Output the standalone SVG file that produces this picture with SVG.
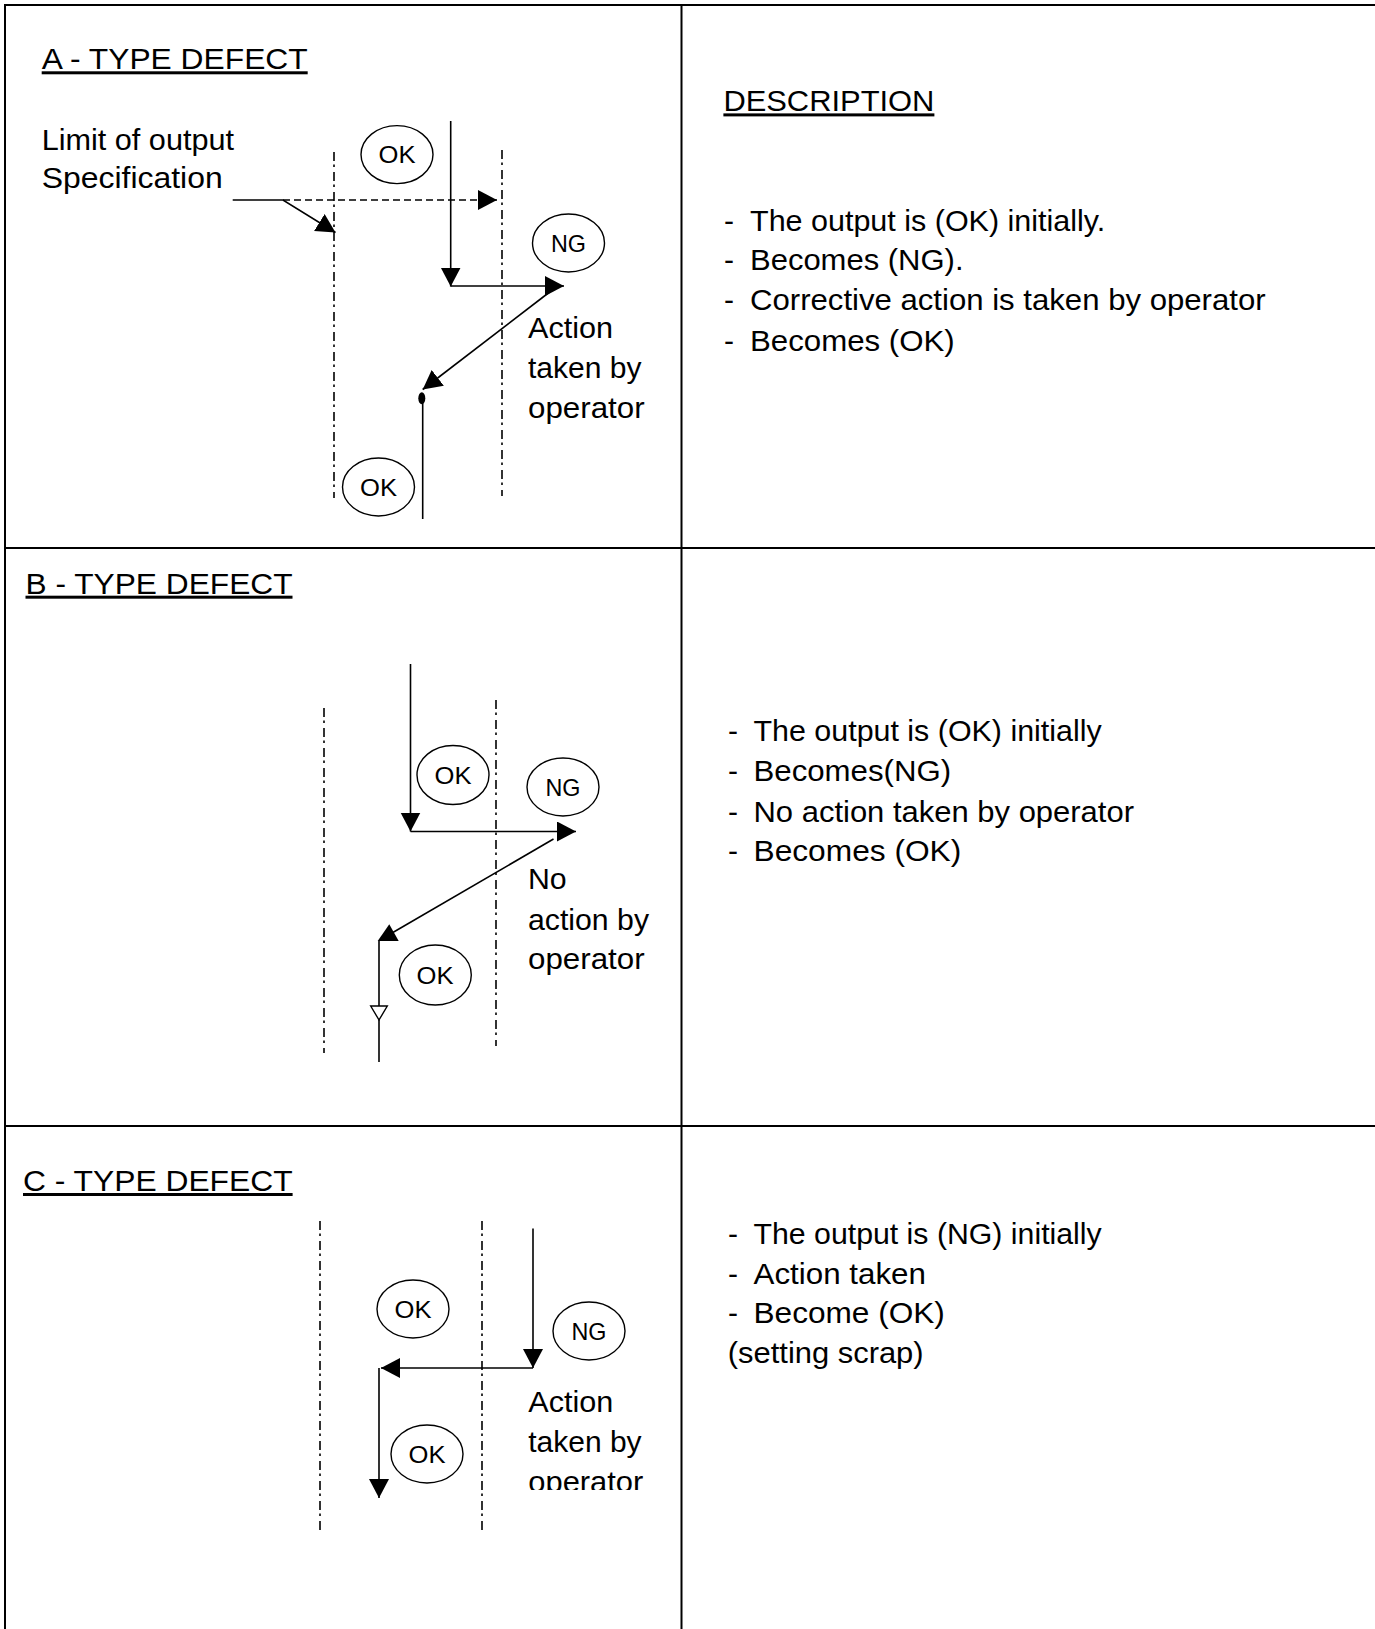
<svg xmlns="http://www.w3.org/2000/svg" width="1375" height="1629" viewBox="0 0 1375 1629">
<style>
text { font-family: "Liberation Sans", Arial, sans-serif; fill: #000; }
.t { font-size: 30px; }
.h { font-size: 30px; text-decoration: underline; }
.lbl { font-size: 24px; }
.frame { stroke: #000; stroke-width: 2; fill: none; }
.ln { stroke: #000; stroke-width: 1.6; fill: none; }
.dash { stroke: #000; stroke-width: 1.6; fill: none; stroke-dasharray: 7 4; }
.lim { stroke: #000; stroke-width: 1.6; fill: none; stroke-dasharray: 9 3.5 2.5 5; }
.node ellipse { fill: #fff; stroke: #000; stroke-width: 1.4; }
</style>
<defs>
<marker id="ah" markerUnits="userSpaceOnUse" markerWidth="22" markerHeight="22" refX="19" refY="10" orient="auto">
<path d="M0,0 L19,10 L0,20 z" fill="#000"/>
</marker>
<clipPath id="clipC"><rect x="0" y="0" width="1375" height="1490"/></clipPath>
</defs>
<rect x="0" y="0" width="1375" height="1629" fill="#fff"/>

<g id="frame">
<line class="frame" x1="4" y1="5" x2="1375" y2="5"/>
<line class="frame" x1="5" y1="4" x2="5" y2="1629"/>
<line class="frame" x1="681.5" y1="4" x2="681.5" y2="1629"/>
<line class="frame" x1="4" y1="548" x2="1375" y2="548"/>
<line class="frame" x1="4" y1="1126" x2="1375" y2="1126"/>
</g>

<g id="limits">
<line class="lim" x1="334" y1="152" x2="334" y2="498"/>
<line class="lim" x1="502" y1="150" x2="502" y2="496"/>
<line class="lim" x1="324" y1="708" x2="324" y2="1053"/>
<line class="lim" x1="496" y1="700" x2="496" y2="1046"/>
<line class="lim" x1="320" y1="1221" x2="320" y2="1530"/>
<line class="lim" x1="482" y1="1221" x2="482" y2="1530"/>
</g>

<g id="connectors">
<!-- A -->
<polyline class="ln" points="232.7,200 283,200 335.5,232.5" marker-end="url(#ah)"/>
<line class="dash" x1="283" y1="200" x2="497" y2="200" marker-end="url(#ah)"/>
<line class="ln" x1="450.7" y1="121" x2="450.7" y2="286.5" marker-end="url(#ah)"/>
<line class="ln" x1="450.7" y1="286" x2="564" y2="286" marker-end="url(#ah)"/>
<line class="ln" x1="549" y1="292.5" x2="422.7" y2="389.5" marker-end="url(#ah)"/>
<ellipse cx="421.8" cy="398.3" rx="3.5" ry="6" fill="#000"/>
<line class="ln" x1="422.7" y1="400" x2="422.7" y2="519"/>
<!-- B -->
<line class="ln" x1="410.5" y1="664" x2="410.5" y2="831.5" marker-end="url(#ah)"/>
<line class="ln" x1="410.5" y1="831.5" x2="576" y2="831.5" marker-end="url(#ah)"/>
<line class="ln" x1="553.5" y1="839" x2="392" y2="933"/>
<polygon points="389.3,924.3 377.7,941 398.7,941" fill="#000"/>
<line class="ln" x1="379" y1="941" x2="379" y2="1062"/>
<polygon points="370.7,1006 387.3,1006 379,1020" fill="#fff" stroke="#000" stroke-width="1.4"/>
<!-- C -->
<line class="ln" x1="533" y1="1228.5" x2="533" y2="1368" marker-end="url(#ah)"/>
<line class="ln" x1="533" y1="1368" x2="381" y2="1368" marker-end="url(#ah)"/>
<line class="ln" x1="379" y1="1368" x2="379" y2="1498" marker-end="url(#ah)"/>
</g>

<g id="nodeA_ok1" class="node"><ellipse cx="397" cy="154.6" rx="36" ry="29"/><text class="lbl" x="378.5" y="163.3" textLength="37" lengthAdjust="spacingAndGlyphs">OK</text></g>
<g id="nodeA_ng" class="node"><ellipse cx="568.5" cy="243" rx="36" ry="29"/><text class="lbl" x="551" y="251.6" textLength="35" lengthAdjust="spacingAndGlyphs">NG</text></g>
<g id="nodeA_ok2" class="node"><ellipse cx="378.5" cy="487" rx="36" ry="29"/><text class="lbl" x="360" y="495.6" textLength="37" lengthAdjust="spacingAndGlyphs">OK</text></g>

<g id="nodeB_ok1" class="node"><ellipse cx="453" cy="775" rx="36" ry="29.5"/><text class="lbl" x="434.5" y="783.6" textLength="37" lengthAdjust="spacingAndGlyphs">OK</text></g>
<g id="nodeB_ng" class="node"><ellipse cx="563" cy="787" rx="36" ry="29"/><text class="lbl" x="545.5" y="795.6" textLength="35" lengthAdjust="spacingAndGlyphs">NG</text></g>
<g id="nodeB_ok2" class="node"><ellipse cx="435.3" cy="975" rx="36" ry="30"/><text class="lbl" x="416.5" y="983.6" textLength="37" lengthAdjust="spacingAndGlyphs">OK</text></g>

<g id="nodeC_ok1" class="node"><ellipse cx="413" cy="1309" rx="36" ry="29"/><text class="lbl" x="394.5" y="1317.6" textLength="37" lengthAdjust="spacingAndGlyphs">OK</text></g>
<g id="nodeC_ng" class="node"><ellipse cx="589" cy="1331" rx="36" ry="29"/><text class="lbl" x="571.5" y="1339.6" textLength="35" lengthAdjust="spacingAndGlyphs">NG</text></g>
<g id="nodeC_ok2" class="node"><ellipse cx="427" cy="1454" rx="36" ry="29"/><text class="lbl" x="408.5" y="1462.6" textLength="37" lengthAdjust="spacingAndGlyphs">OK</text></g>

<g id="sectionA">
<text class="h" x="41.7" y="69.3" textLength="266" lengthAdjust="spacingAndGlyphs">A - TYPE DEFECT</text>
<text class="t" x="41.7" y="150" textLength="192.3" lengthAdjust="spacingAndGlyphs">Limit of output</text>
<text class="t" x="41.7" y="188.3" textLength="181" lengthAdjust="spacingAndGlyphs">Specification</text>
<text class="t" x="528" y="338.4" textLength="85" lengthAdjust="spacingAndGlyphs">Action</text>
<text class="t" x="528" y="378.4" textLength="113.5" lengthAdjust="spacingAndGlyphs">taken by</text>
<text class="t" x="528" y="417.7" textLength="116.6" lengthAdjust="spacingAndGlyphs">operator</text>
</g>

<g id="descA">
<text class="h" x="723.4" y="111.4" textLength="211" lengthAdjust="spacingAndGlyphs">DESCRIPTION</text>
<text class="t" x="724" y="231.4">-</text>
<text class="t" x="750" y="231.4" textLength="355.3" lengthAdjust="spacingAndGlyphs">The output is (OK) initially.</text>
<text class="t" x="724" y="270">-</text>
<text class="t" x="750" y="270" textLength="213.5" lengthAdjust="spacingAndGlyphs">Becomes (NG).</text>
<text class="t" x="724" y="310">-</text>
<text class="t" x="750" y="310" textLength="515.6" lengthAdjust="spacingAndGlyphs">Corrective action is taken by operator</text>
<text class="t" x="724" y="350.6">-</text>
<text class="t" x="750" y="350.6" textLength="204.7" lengthAdjust="spacingAndGlyphs">Becomes (OK)</text>
</g>

<g id="sectionB">
<text class="h" x="25.5" y="593.7" textLength="267" lengthAdjust="spacingAndGlyphs">B - TYPE DEFECT</text>
<text class="t" x="528" y="889" textLength="38.7" lengthAdjust="spacingAndGlyphs">No</text>
<text class="t" x="528" y="930.4" textLength="121" lengthAdjust="spacingAndGlyphs">action by</text>
<text class="t" x="528" y="969.2" textLength="116.6" lengthAdjust="spacingAndGlyphs">operator</text>
</g>

<g id="descB">
<text class="t" x="728" y="741">-</text>
<text class="t" x="753.5" y="741" textLength="348.2" lengthAdjust="spacingAndGlyphs">The output is (OK) initially</text>
<text class="t" x="728" y="781">-</text>
<text class="t" x="753.5" y="781" textLength="197.6" lengthAdjust="spacingAndGlyphs">Becomes(NG)</text>
<text class="t" x="728" y="822">-</text>
<text class="t" x="753.5" y="822" textLength="380.5" lengthAdjust="spacingAndGlyphs">No action taken by operator</text>
<text class="t" x="728" y="861">-</text>
<text class="t" x="753.5" y="861" textLength="207.8" lengthAdjust="spacingAndGlyphs">Becomes (OK)</text>
</g>

<g id="sectionC">
<text class="h" x="23" y="1191" textLength="269.6" lengthAdjust="spacingAndGlyphs">C - TYPE DEFECT</text>
<text class="t" x="528.3" y="1411.7" textLength="85" lengthAdjust="spacingAndGlyphs">Action</text>
<text class="t" x="528.3" y="1451.7" textLength="113.3" lengthAdjust="spacingAndGlyphs">taken by</text>
<text class="t" x="528.3" y="1491.7" textLength="115" lengthAdjust="spacingAndGlyphs" clip-path="url(#clipC)">operator</text>
</g>

<g id="descC">
<text class="t" x="728" y="1244">-</text>
<text class="t" x="753.5" y="1244" textLength="348.2" lengthAdjust="spacingAndGlyphs">The output is (NG) initially</text>
<text class="t" x="728" y="1284">-</text>
<text class="t" x="753.5" y="1284" textLength="172.4" lengthAdjust="spacingAndGlyphs">Action taken</text>
<text class="t" x="728" y="1323">-</text>
<text class="t" x="753.5" y="1323" textLength="191.4" lengthAdjust="spacingAndGlyphs">Become (OK)</text>
<text class="t" x="727.8" y="1362.5" textLength="195.8" lengthAdjust="spacingAndGlyphs">(setting scrap)</text>
</g>
</svg>
